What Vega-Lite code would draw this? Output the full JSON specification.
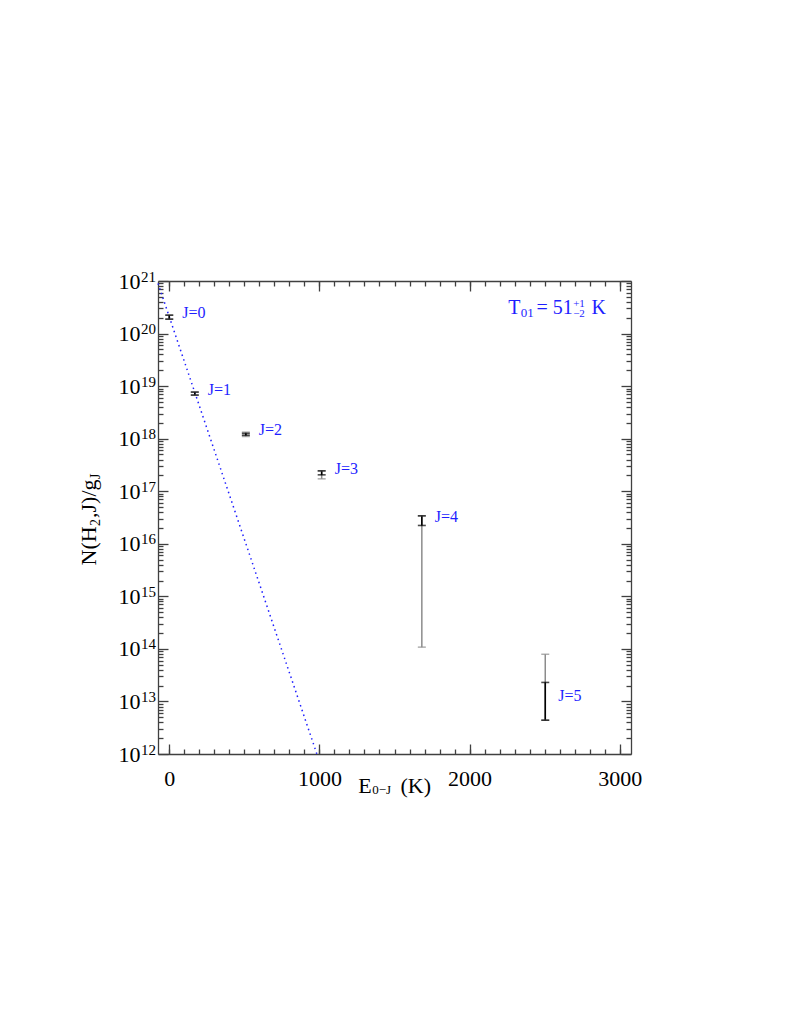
{
  "$schema": "https://vega.github.io/schema/vega-lite/v6.json",
  "width": 473,
  "height": 473,
  "autosize": "none",
  "padding": {"left": 158, "top": 281, "right": 158, "bottom": 281},
  "background": "white",
  "config": {
    "view": {"stroke": null},
    "font": "Liberation Serif",
    "axis": {
      "domainColor": "#404040", "tickColor": "#404040", "domainWidth": 1.3, "tickWidth": 1.3,
      "labelFont": "Liberation Serif", "titleFont": "Liberation Serif", "labelColor": "black", "titleColor": "black",
      "grid": false, "titleFontWeight": "normal", "labelOverlap": false, "labelFlush": false
    }
  },
  "datasets": {
    "pts": [
      {"J": 0, "lab": "J=0", "E": 0, "N": 2.05e20, "lo": 1.88e20, "hi": 2.24e20, "glo": 1.88e20, "ghi": 2.24e20},
      {"J": 1, "lab": "J=1", "E": 170, "N": 7.2e18, "lo": 6.75e18, "hi": 7.7e18, "glo": 6.75e18, "ghi": 7.7e18},
      {"J": 2, "lab": "J=2", "E": 510, "N": 1.21e18, "lo": 1.16e18, "hi": 1.26e18, "glo": 1.10e18, "ghi": 1.33e18},
      {"J": 3, "lab": "J=3", "E": 1015, "N": 2.25e17, "lo": 2.05e17, "hi": 2.44e17, "glo": 1.72e17, "ghi": 2.44e17},
      {"J": 4, "lab": "J=4", "E": 1682, "N": 2.75e16, "lo": 2.23e16, "hi": 3.4e16, "glo": 1.08e14, "ghi": 3.4e16},
      {"J": 5, "lab": "J=5", "E": 2504, "N": 1.05e13, "lo": 4.4e12, "hi": 2.3e13, "glo": 4.4e12, "ghi": 7.9e13}
    ],
    "ann": [
      {"E": 2257, "N": 2.36e20, "t": "T"},
      {"E": 2257, "N": 2.36e20, "t": "01"},
      {"E": 2257, "N": 2.36e20, "t": "= 51"},
      {"E": 2257, "N": 2.36e20, "t": "+1"},
      {"E": 2257, "N": 2.36e20, "t": "−2"},
      {"E": 2257, "N": 2.36e20, "t": "K"}
    ],
    "fit": [
      {"E": -75, "N": 9.0e20},
      {"E": 983, "N": 1e12}
    ]
  },
  "resolve": {"axis": {"x": "independent", "y": "independent"}},
  "layer": [
    {
      "data": {"name": "fit"},
      "mark": {"type": "line", "color": "#1e1eff", "strokeDash": [1.5, 3.5], "strokeWidth": 1.5},
      "encoding": {
        "x": {"field": "E", "type": "quantitative",
          "scale": {"domain": [-75, 3075], "nice": false, "zero": false},
          "axis": {"orient": "bottom", "values": [0, 1000, 2000, 3000], "tickSize": -10, "format": "d",
            "labelFontSize": 22, "labelPadding": 24,
            "title": "E", "titleFontSize": 22, "titleX": 199.7, "titleY": 38.7, "titleAlign": "left", "titleBaseline": "alphabetic", "titleAngle": 0}},
        "y": {"field": "N", "type": "quantitative",
          "scale": {"type": "log", "domain": [1e12, 1e21], "nice": false},
          "axis": {"orient": "left", "values": [1e12, 1e13, 1e14, 1e15, 1e16, 1e17, 1e18, 1e19, 1e20, 1e21], "tickSize": -10,
            "labelExpr": "'10'", "labelFontSize": 22, "labelPadding": 28, "labelBaseline": "middle",
            "title": "N(H", "titleFontSize": 22, "titleAngle": 270, "titleX": -63, "titleY": 284, "titleAlign": "left", "titleBaseline": "alphabetic"}}
      }
    },
    {
      "data": {"name": "pts"},
      "mark": {"type": "rule", "color": "#8c8c8c", "strokeWidth": 1.5},
      "encoding": {
        "x": {"field": "E", "type": "quantitative",
          "axis": {"orient": "bottom", "values": [0,100,200,300,400,500,600,700,800,900,1000,1100,1200,1300,1400,1500,1600,1700,1800,1900,2000,2100,2200,2300,2400,2500,2600,2700,2800,2900,3000],
            "tickSize": -5, "labels": false, "domain": false,
            "title": "0−J", "titleFontSize": 13, "titleX": 213.7, "titleY": 39.5, "titleAlign": "left", "titleBaseline": "alphabetic", "titleAngle": 0}},
        "y": {"field": "glo", "type": "quantitative",
          "axis": {"orient": "left", "values": [2e12,3e12,4e12,5e12,6e12,7e12,8e12,9e12,2e13,3e13,4e13,5e13,6e13,7e13,8e13,9e13,2e14,3e14,4e14,5e14,6e14,7e14,8e14,9e14,2e15,3e15,4e15,5e15,6e15,7e15,8e15,9e15,2e16,3e16,4e16,5e16,6e16,7e16,8e16,9e16,2e17,3e17,4e17,5e17,6e17,7e17,8e17,9e17,2e18,3e18,4e18,5e18,6e18,7e18,8e18,9e18,2e19,3e19,4e19,5e19,6e19,7e19,8e19,9e19,2e20,3e20,4e20,5e20,6e20,7e20,8e20,9e20],
            "tickSize": -5, "labels": false, "domain": false,
            "title": "2", "titleFontSize": 14, "titleAngle": 270, "titleX": -59, "titleY": 244.5, "titleAlign": "left", "titleBaseline": "alphabetic"}},
        "y2": {"field": "ghi"}
      }
    },
    {
      "data": {"name": "pts"},
      "mark": {"type": "rule", "color": "black", "strokeWidth": 1.6},
      "encoding": {
        "x": {"field": "E", "type": "quantitative",
          "axis": {"orient": "top", "values": [0, 1000, 2000, 3000], "tickSize": -10, "labels": false,
            "title": "(K)", "titleFontSize": 22, "titleX": 242, "titleY": 511.7, "titleAlign": "left", "titleBaseline": "alphabetic", "titleAngle": 0}},
        "y": {"field": "lo", "type": "quantitative",
          "axis": {"orient": "right", "values": [1e12, 1e13, 1e14, 1e15, 1e16, 1e17, 1e18, 1e19, 1e20, 1e21], "tickSize": -10, "labels": false,
            "title": ",J)/g", "titleFontSize": 22, "titleAngle": 270, "titleX": -536, "titleY": 236.5, "titleAlign": "left", "titleBaseline": "alphabetic"}},
        "y2": {"field": "hi"}
      }
    },
    {
      "data": {"name": "pts"},
      "transform": [{"fold": ["glo", "ghi"], "as": ["k", "v"]}],
      "mark": {"type": "tick", "orient": "horizontal", "color": "#8c8c8c", "size": 8, "thickness": 1.5},
      "encoding": {
        "x": {"field": "E", "type": "quantitative",
          "axis": {"orient": "top", "values": [0,100,200,300,400,500,600,700,800,900,1000,1100,1200,1300,1400,1500,1600,1700,1800,1900,2000,2100,2200,2300,2400,2500,2600,2700,2800,2900,3000],
            "tickSize": -5, "labels": false, "domain": false, "title": null}},
        "y": {"field": "v", "type": "quantitative",
          "axis": {"orient": "right", "values": [2e12,3e12,4e12,5e12,6e12,7e12,8e12,9e12,2e13,3e13,4e13,5e13,6e13,7e13,8e13,9e13,2e14,3e14,4e14,5e14,6e14,7e14,8e14,9e14,2e15,3e15,4e15,5e15,6e15,7e15,8e15,9e15,2e16,3e16,4e16,5e16,6e16,7e16,8e16,9e16,2e17,3e17,4e17,5e17,6e17,7e17,8e17,9e17,2e18,3e18,4e18,5e18,6e18,7e18,8e18,9e18,2e19,3e19,4e19,5e19,6e19,7e19,8e19,9e19,2e20,3e20,4e20,5e20,6e20,7e20,8e20,9e20],
            "tickSize": -5, "labels": false, "domain": false,
            "title": "J", "titleFontSize": 14, "titleAngle": 270, "titleX": -532, "titleY": 197.5, "titleAlign": "left", "titleBaseline": "alphabetic"}}
      }
    },
    {
      "data": {"name": "pts"},
      "transform": [{"fold": ["lo", "hi"], "as": ["k", "v"]}],
      "mark": {"type": "tick", "orient": "horizontal", "color": "black", "size": 8, "thickness": 1.6},
      "encoding": {
        "x": {"field": "E", "type": "quantitative", "axis": null},
        "y": {"field": "v", "type": "quantitative",
          "axis": {"orient": "left", "values": [1e12, 1e13, 1e14, 1e15, 1e16, 1e17, 1e18, 1e19, 1e20, 1e21], "ticks": false, "domain": false,
            "labelExpr": "'' + round(log(datum.value)/LN10)", "labelFontSize": 15, "labelAlign": "left", "labelPadding": 17.5, "labelOffset": -5, "labelBaseline": "middle", "title": null}}
      }
    },
    {
      "data": {"name": "pts"},
      "mark": {"type": "text", "align": "left", "baseline": "middle", "dx": 13, "dy": -4, "fontSize": 16, "color": "#1e1eff", "font": "Liberation Serif"},
      "encoding": {
        "x": {"field": "E", "type": "quantitative", "axis": null},
        "y": {"field": "N", "type": "quantitative", "axis": null},
        "text": {"field": "lab"}
      }
    },
    {
      "data": {"name": "ann"},
      "transform": [{"filter": "datum.t == 'T'"}],
      "mark": {"type": "text", "align": "left", "baseline": "alphabetic", "dx": 0, "fontSize": 20, "color": "#1e1eff", "font": "Liberation Serif"},
      "encoding": {"x": {"field": "E", "type": "quantitative", "axis": null}, "y": {"field": "N", "type": "quantitative", "axis": null}, "text": {"field": "t"}}
    },
    {
      "data": {"name": "ann"},
      "transform": [{"filter": "datum.t == '01'"}],
      "mark": {"type": "text", "align": "left", "baseline": "alphabetic", "dx": 12.7, "dy": 2.7, "fontSize": 13, "color": "#1e1eff", "font": "Liberation Serif"},
      "encoding": {"x": {"field": "E", "type": "quantitative", "axis": null}, "y": {"field": "N", "type": "quantitative", "axis": null}, "text": {"field": "t"}}
    },
    {
      "data": {"name": "ann"},
      "transform": [{"filter": "datum.t == '= 51'"}],
      "mark": {"type": "text", "align": "left", "baseline": "alphabetic", "dx": 28.4, "fontSize": 20, "color": "#1e1eff", "font": "Liberation Serif"},
      "encoding": {"x": {"field": "E", "type": "quantitative", "axis": null}, "y": {"field": "N", "type": "quantitative", "axis": null}, "text": {"field": "t"}}
    },
    {
      "data": {"name": "ann"},
      "transform": [{"filter": "datum.t == '+1'"}],
      "mark": {"type": "text", "align": "left", "baseline": "alphabetic", "dx": 65, "dy": -7.3, "fontSize": 11, "color": "#1e1eff", "font": "Liberation Serif"},
      "encoding": {"x": {"field": "E", "type": "quantitative", "axis": null}, "y": {"field": "N", "type": "quantitative", "axis": null}, "text": {"field": "t"}}
    },
    {
      "data": {"name": "ann"},
      "transform": [{"filter": "datum.t == '−2'"}],
      "mark": {"type": "text", "align": "left", "baseline": "alphabetic", "dx": 65, "dy": 3, "fontSize": 11, "color": "#1e1eff", "font": "Liberation Serif"},
      "encoding": {"x": {"field": "E", "type": "quantitative", "axis": null}, "y": {"field": "N", "type": "quantitative", "axis": null}, "text": {"field": "t"}}
    },
    {
      "data": {"name": "ann"},
      "transform": [{"filter": "datum.t == 'K'"}],
      "mark": {"type": "text", "align": "left", "baseline": "alphabetic", "dx": 83.4, "fontSize": 20, "color": "#1e1eff", "font": "Liberation Serif"},
      "encoding": {"x": {"field": "E", "type": "quantitative", "axis": null}, "y": {"field": "N", "type": "quantitative", "axis": null}, "text": {"field": "t"}}
    }
  ]
}
